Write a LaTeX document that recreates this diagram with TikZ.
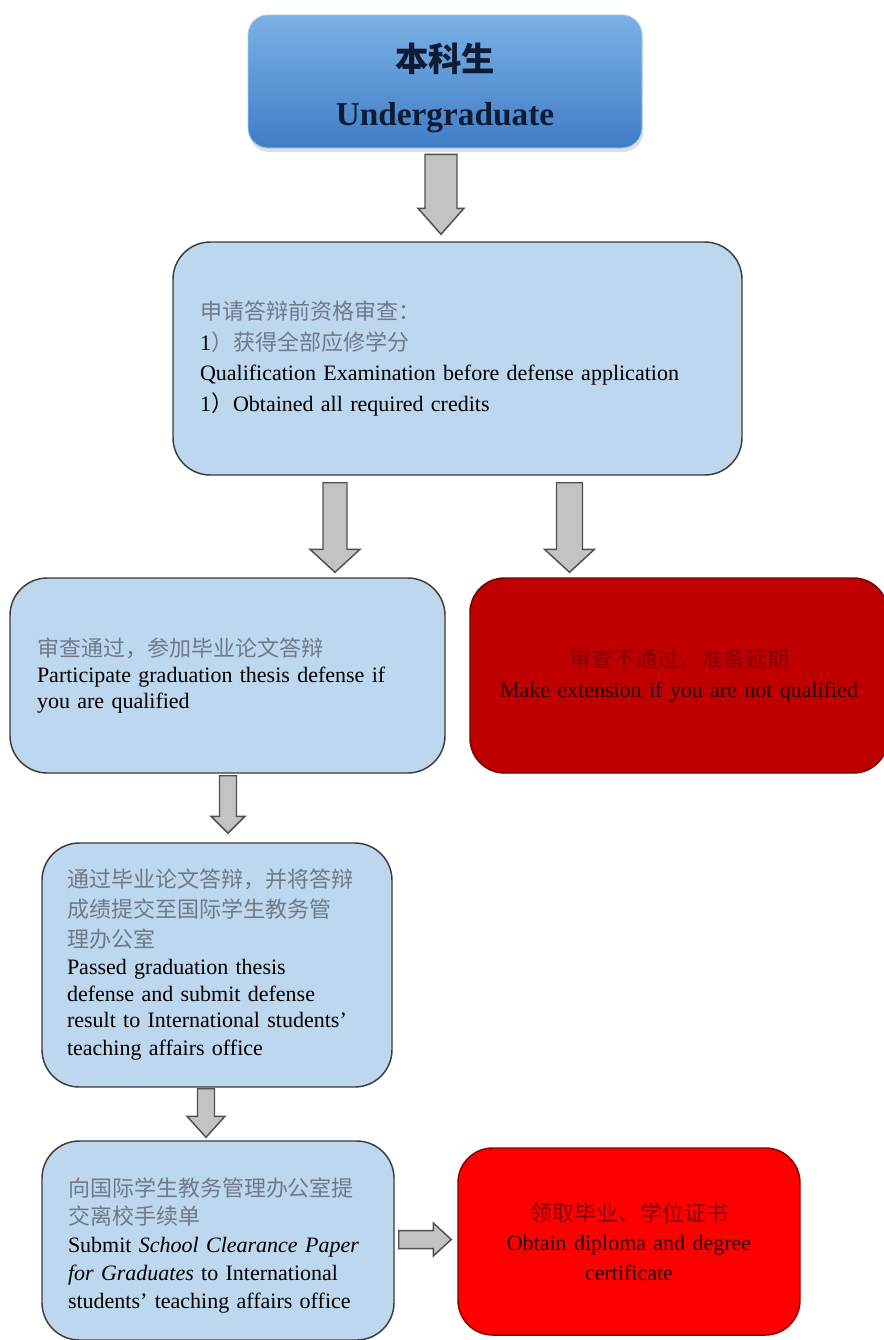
\documentclass[tikz,border=0pt]{standalone}
\usepackage{fontspec}
\setmainfont{Liberation Serif}
\newfontfamily\cjk{Noto Sans CJK SC}
\usetikzlibrary{calc,shadows}

\definecolor{paleblue}{HTML}{BDD7EE}
\definecolor{edgegray}{HTML}{3C3C3C}
\definecolor{cjkgray}{HTML}{6F7A88}
\definecolor{deepred}{HTML}{C00000}
\definecolor{brightred}{HTML}{FF0000}
\definecolor{redink}{HTML}{850000}
\definecolor{arrowgray}{HTML}{C3C3C3}
\definecolor{topblue}{HTML}{7AB1E6}
\definecolor{botblue}{HTML}{3F7DC6}
\definecolor{navyink}{HTML}{0E1B33}

% grey Chinese text inside the pale boxes
\newcommand\zh[1]{{\cjk\color{cjkgray}#1}}
% red-box Chinese text
\newcommand\zhred[1]{{\cjk\color{redink}#1}}

% block arrow pointing down, from #1 to #2 (shaft half width, head half width, head length in px)
\newcommand\downblock[5]{%
  \draw[blockarrow] let \p1=(#1), \p2=(#2) in
    ({\x1-#3*0.75pt},\y1) -- ({\x1+#3*0.75pt},\y1)
    -- ({\x1+#3*0.75pt},{\y2+#5*0.75pt}) -- ({\x1+#4*0.75pt},{\y2+#5*0.75pt})
    -- (\x1,\y2)
    -- ({\x1-#4*0.75pt},{\y2+#5*0.75pt}) -- ({\x1-#3*0.75pt},{\y2+#5*0.75pt}) -- cycle;}
% block arrow pointing right
\newcommand\rightblock[5]{%
  \draw[blockarrow] let \p1=(#1), \p2=(#2) in
    (\x1,{\y1+#3*0.75pt}) -- (\x1,{\y1-#3*0.75pt})
    -- ({\x2-#5*0.75pt},{\y1-#3*0.75pt}) -- ({\x2-#5*0.75pt},{\y1-#4*0.75pt})
    -- (\x2,\y1)
    -- ({\x2-#5*0.75pt},{\y1+#4*0.75pt}) -- ({\x2-#5*0.75pt},{\y1+#3*0.75pt}) -- cycle;}

\begin{document}
\begin{tikzpicture}[x=0.75pt,y=-0.75pt,
  dims/.style 2 args={minimum width={#1*0.75pt},minimum height={#2*0.75pt}},
  palebox/.style={draw=edgegray,line width=1.1pt,fill=paleblue,rounded corners=28pt,
    inner sep=0pt,align=left,font=\fontsize{16.5}{21}\selectfont},
  redbox/.style={line width=1.1pt,rounded corners=26pt,inner sep=0pt,align=center,
    text=black!85!red,font=\fontsize{16.5}{22}\selectfont},
  blockarrow/.style={draw=edgegray!90,line width=1.1pt,fill=arrowgray,line join=miter}]

\fill[white] (0,0) rectangle (884,1340);
\useasboundingbox (0,0) rectangle (884,1340);

% start box
\node[dims={394}{133},rounded corners=15pt,top color=topblue,bottom color=botblue,
  draw=topblue!70!white,line width=0.6pt,
  drop shadow={shadow xshift=1pt,shadow yshift=-3pt,opacity=0.25},
  align=center,text=navyink,font=\fontsize{25}{41}\selectfont\bfseries]
  (b1) at (445,81.5) {\rule{0pt}{31pt}{\cjk 本科生}\\Undergraduate};

% qualification check
\node[palebox,dims={569}{233},text width={515*0.75pt},
  font=\fontsize{16.5}{23}\selectfont] (b2) at (457.5,358.5)
  {\zh{申请答辩前资格审查：}\\
   1\zh{）获得全部应修学分}\\
   Qualification Examination before defense application\\
   1{\cjk ）}Obtained all required credits};

% passed
\node[palebox,dims={435}{195},text width={381*0.75pt},
  font=\fontsize{16.5}{19.5}\selectfont] (b3) at (227.5,675.5)
  {\zh{审查通过，参加毕业论文答辩}\\
   Participate graduation thesis defense if\\
   you are qualified};

% not passed
\node[redbox,fill=deepred,draw=deepred!60!black,dims={418}{195},text width={400*0.75pt}]
  (b4) at (679,675.5)
  {\zhred{审查不通过，准备延期}\\
   Make extension if you are not qualified};

% defense result
\node[palebox,dims={350}{244},text width={300*0.75pt},
  font=\fontsize{16.5}{20}\selectfont] (b5) at (217,965)
  {\zh{通过毕业论文答辩，并将答辩}\\[2.5pt]
   \zh{成绩提交至国际学生教务管}\\[2.5pt]
   \zh{理办公室}\\
   Passed graduation thesis\\
   defense and submit defense\\
   result to International students’\\[1pt]
   teaching affairs office};

% clearance paper
\node[palebox,dims={352}{199},text width={300*0.75pt}] (b6) at (218,1240.5)
  {\rule{0pt}{22pt}\zh{向国际学生教务管理办公室提}\\
   \zh{交离校手续单}\\
   Submit \textit{School Clearance Paper}\\
   \textit{for Graduates} to International\\
   students’ teaching affairs office};

% diploma
\node[redbox,fill=brightred,draw=brightred!55!black,dims={342}{187},text width={290*0.75pt}]
  (b7) at (629,1241.5)
  {\zhred{领取毕业、学位证书}\\
   Obtain diploma and degree\\
   certificate};

% connector end points
\coordinate (a1s) at ($(b1.south)+(-4,6)$);
\coordinate (a1e) at ($(b2.north)+(-16.5,-7)$);
\coordinate (a2s) at ($(b2.south)+(-122.5,7)$);
\coordinate (a2e) at ($(b3.north)+(107.5,-5)$);
\coordinate (a3s) at ($(b2.south)+(112,7)$);
\coordinate (a3e) at ($(b4.north)+(-109.5,-5)$);
\coordinate (a4s) at ($(b3.south)+(0.5,2)$);
\coordinate (a4e) at ($(b5.north)+(11,-9)$);
\coordinate (a5s) at ($(b5.south)+(-11,1)$);
\coordinate (a5e) at ($(b6.north)+(-12,-3)$);
\coordinate (a6s) at ($(b6.east)+(4,-1)$);
\coordinate (a6e) at ($(b7.west)+(-6,-2.5)$);

\downblock{a1s}{a1e}{16}{23}{26}
\downblock{a2s}{a2e}{12}{25}{23}
\downblock{a3s}{a3e}{13}{25}{23}
\downblock{a4s}{a4e}{8.5}{17}{17}
\downblock{a5s}{a5e}{8.5}{19}{21}
\rightblock{a6s}{a6e}{9}{16.5}{18}

\end{tikzpicture}
\end{document}
